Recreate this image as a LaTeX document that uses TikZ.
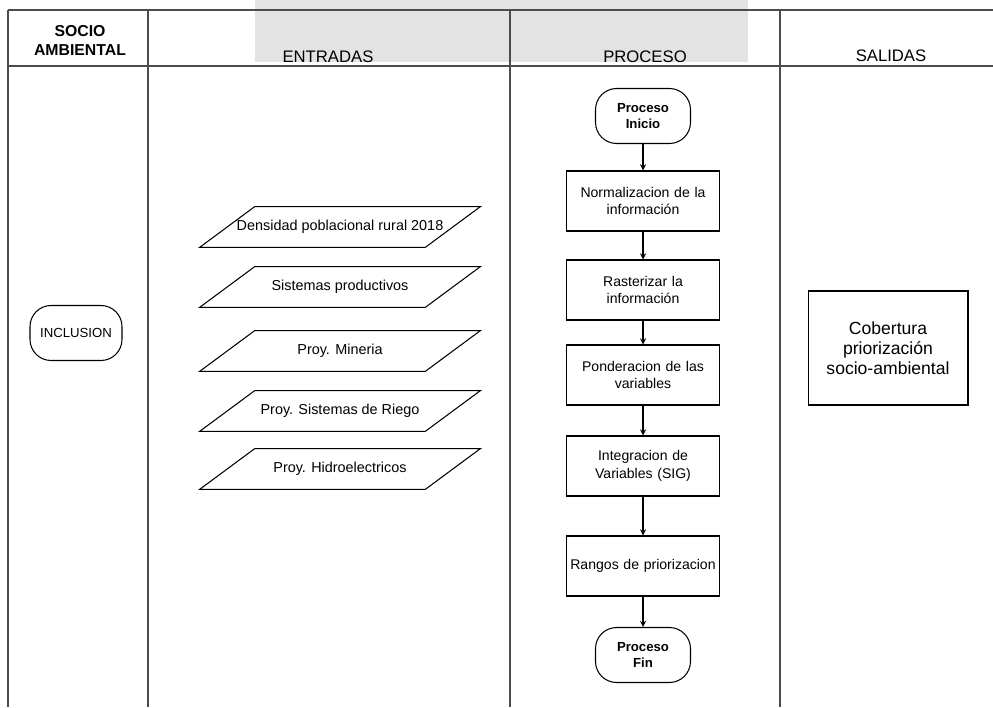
\documentclass[tikz,border=0pt]{standalone}
\usepackage{fontspec}
\setmainfont{Liberation Sans}

\begin{document}
\begin{tikzpicture}[x=0.02cm, y=-0.02cm,
    lane/.style={draw=black!70, line width=0.6pt},
    term/.style={rectangle, rounded corners=12pt, draw, line width=0.6pt,
      minimum width=1.9cm, minimum height=1.1cm, align=center},
    proc/.style={rectangle, draw, line width=0.6pt, minimum width=3.04cm,
      minimum height=1.2cm, text width=3.0cm, inner sep=1pt, align=center,
      font=\fontsize{8}{10}\selectfont},
    datos/.style={rectangle, minimum width=4.5cm, minimum height=0.8cm,
      inner sep=1pt, font=\fontsize{8.2}{9}\selectfont}]
  \useasboundingbox (0,0) rectangle (993,707);

  % cabecera
  \fill[gray!22] (255,0) rectangle (748,62);
  \draw[lane] (8,10) -- (993,10);
  \draw[lane] (8,66) -- (993,66);
  \foreach \x in {8,148,510,780}
    \draw[lane] (\x,10) -- (\x,707);
  \begin{scope}[every node/.style={font=\fontsize{9.5}{11}\selectfont}]
    \node [font=\fontsize{9}{10.8}\selectfont\bfseries, align=center] (socio)
      at (80,40) {SOCIO\\AMBIENTAL};
    \node (entradas) at (328,57) {ENTRADAS};
    \node (proceso) at (645,57) {PROCESO};
    \node (salidas) at (891,56) {SALIDAS};
  \end{scope}

  % socio ambiental
  \node [term, minimum width=1.84cm, font=\fontsize{7.5}{9}\selectfont]
    (inclusion) at (76,333) {INCLUSION};

  % entradas
  \begin{scope}[every node/.style={datos}]
    \node (densidad) at (340,227) {Densidad poblacional rural 2018};
    \node (sistemas) at (340,287) {Sistemas productivos};
    \node (mineria) at (340,351) {Proy. Mineria};
    \node (riego) at (340,411) {Proy. Sistemas de Riego};
    \node (hidro) at (340,469) {Proy. Hidroelectricos};
  \end{scope}
  \foreach \n in {densidad,sistemas,mineria,riego,hidro}
    \draw [line width=0.6pt] ([xshift=-0.55cm]\n.south west) --
      ([xshift=-0.55cm]\n.south east) -- ([xshift=0.55cm]\n.north east) --
      ([xshift=0.55cm]\n.north west) -- cycle;

  % proceso
  \node [term, font=\fontsize{7.5}{9}\selectfont\bfseries] (inicio) at (643,116)
    {Proceso\\Inicio};
  \begin{scope}[every node/.style={proc}]
    \node (norm) at (643,201) {Normalizacion de la\\información};
    \node (raster) at (643,290) {Rasterizar la\\información};
    \node (ponde) at (643,375) {Ponderacion de las\\variables};
    \node (integ) at (643,466) {Integracion de\\Variables (SIG)};
    \node (rangos) at (643,566) {Rangos de priorizacion};
  \end{scope}
  \node [term, font=\fontsize{7.5}{9}\selectfont\bfseries] (fin) at (643,655)
    {Proceso\\Fin};
  \begin{scope}[->, >=stealth, line width=0.6pt]
    \draw (inicio) to (norm); \draw (norm) to (raster); \draw (raster) to
    (ponde); \draw (ponde) to (integ); \draw (integ) to (rangos); \draw
    (rangos) to (fin);
  \end{scope}

  % salidas
  \node [rectangle, draw, line width=0.6pt, minimum width=3.2cm,
    minimum height=2.28cm, align=center, font=\fontsize{10}{11.5}\selectfont]
    (cobertura) at (888,348) {Cobertura\\priorización\\socio-ambiental};

\end{tikzpicture}
\end{document}
